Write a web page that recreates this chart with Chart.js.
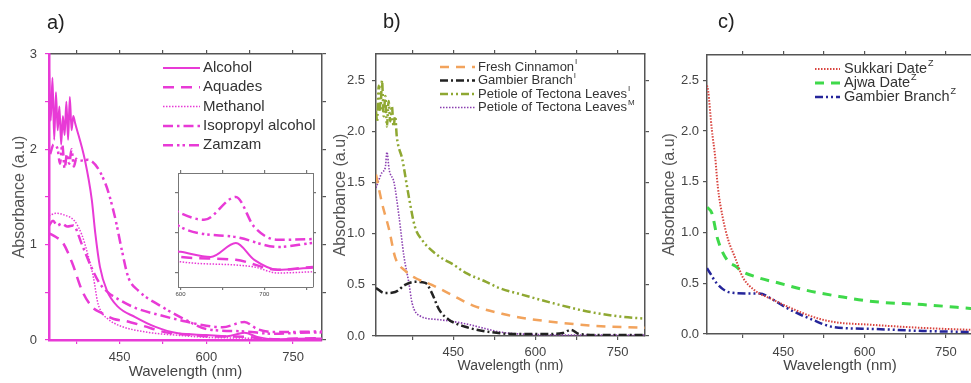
<!DOCTYPE html>
<html>
<head>
<meta charset="utf-8">
<script src="https://cdn.jsdelivr.net/npm/chart.js@4.4.1/dist/chart.umd.min.js"></script>
<style>
  html, body { margin: 0; padding: 0; background: #fff; overflow: hidden; width: 971px; height: 383px; }
  canvas { position: absolute; top: 0; }
</style>
</head>
<body>
<canvas id="panelA" width="330" height="383" style="left:0px"></canvas>
<canvas id="panelB" width="325" height="383" style="left:330px"></canvas>
<canvas id="panelC" width="330" height="383" style="left:655px"></canvas>
<canvas id="insetA" width="155" height="135" style="left:168px;top:165px"></canvas>
<script>
// Panel a) - solventes
const alcoholNm = [328,331,334,337,340,343,346,349,352,355,358,361,364,367,370,373,390,402,408,416,428,447,477,511,551,600,636,666,688,716,758,800];
const alcoholAbs = [2.85,2.3,2.75,2.1,2.6,2.2,2.45,2.05,2.35,2.15,2.5,2.1,2.55,2.2,2.35,2.28,1.89,1.47,1.12,0.77,0.52,0.35,0.24,0.14,0.07,0.053,0.04,0.075,0.033,0.008,0.013,0.015];
const aquadesNm = [328,340,352,368,385,402,420,440,460,490,530,580,600,666,716,758,800];
const aquadesAbs = [1.12,1.08,1.02,0.81,0.52,0.35,0.28,0.22,0.2,0.15,0.08,0.05,0.04,0.033,0.008,0.015,0.02];
const methanolNm = [328,340,355,372,385,395,405,412,418,430,450,500,550,600,688,716,758,800];
const methanolAbs = [1.3,1.33,1.31,1.25,1.1,0.9,0.65,0.4,0.3,0.22,0.15,0.08,0.05,0.028,0.015,0,0.003,0.005];
const isopropylNm = [328,335,342,350,360,370,385,400,415,430,450,480,520,560,600,628,666,688,716,758,800];
const isopropylAbs = [1.2,1.25,1.2,1.22,1.19,1.2,1.0,0.78,0.6,0.5,0.42,0.33,0.26,0.2,0.15,0.133,0.19,0.115,0.083,0.085,0.09];
const zamzamNm = [330,336,343,347,351,355,359,363,367,371,375,380,395,425,442,454,465,482,523,568,600,666,716,758,800];
const zamzamAbs = [1.95,2.05,2.0,1.85,2.05,1.8,1.95,1.85,2.0,1.82,1.9,1.88,1.89,1.65,1.29,0.94,0.66,0.52,0.35,0.2,0.115,0.09,0.065,0.075,0.08];

// Panel b) - extractos
const cinnamonNm = [309,320,333,344,362,380,411,448,485,545,585,646,706,800];
const cinnamonAbs = [1.58,1.3,1.04,0.77,0.64,0.57,0.5,0.4,0.3,0.21,0.17,0.13,0.1,0.08];
const gambierINm = [309,325,344,362,380,399,411,424,442,472,516,560,620,650,665,680,720,800];
const gambierIAbs = [0.47,0.42,0.43,0.5,0.53,0.52,0.42,0.26,0.16,0.09,0.04,0.02,0.02,0.03,0.06,0.02,0.01,0.01];
const petioleINm = [309,311,314,317,320,323,326,329,332,335,338,341,344,347,357,369,380,393,424,450,472,510,534,572,633,695,755,800];
const petioleIAbs = [2.2,2.1,2.45,2.2,2.5,2.15,2.35,2.05,2.3,2.1,2.25,2.05,2.15,1.95,1.73,1.36,1.07,0.94,0.78,0.7,0.62,0.53,0.47,0.41,0.32,0.24,0.19,0.17];
const petioleMNm = [309,320,326,329,333,342,351,360,369,375,388,424,472,510,534,570,700,800];
const petioleMAbs = [1.45,1.6,1.65,1.8,1.63,1.5,1.17,0.78,0.52,0.32,0.2,0.16,0.12,0.07,0.04,0.02,0.01,0.01];

// Panel c) - dátiles
const sukkariNm = [309,311,318,324,329,338,348,361,375,397,430,462,504,541,615,707,800];
const sukkariAbs = [2.45,2.4,2.01,1.75,1.45,1.15,0.93,0.75,0.56,0.43,0.34,0.26,0.17,0.12,0.09,0.06,0.04];
const ajwaNm = [309,318,329,346,364,370,401,443,493,553,615,707,800];
const ajwaAbs = [1.25,1.19,0.93,0.73,0.66,0.63,0.56,0.5,0.43,0.37,0.32,0.29,0.25];
const gambierZNm = [309,327,351,382,406,430,462,504,541,615,707,800];
const gambierZAbs = [0.65,0.5,0.41,0.4,0.4,0.34,0.24,0.14,0.07,0.05,0.03,0.02];

// Etiquetas de los ejes
const xTickLabels = [450, 600, 750];
const insetTickLabels = [600, 700];

const FONT = '"Liberation Sans", Arial, sans-serif';
const MAGENTA = '#e83ad6';
Chart.defaults.font.family = FONT;
Chart.defaults.color = '#444';

function toPoints(nm, abs) {
    return nm.map(function(x, i) { return { x: x, y: abs[i] }; });
}

function serie(label, sup, nm, abs, color, width, dash) {
    return {
        label: label, sup: sup, data: toPoints(nm, abs),
        borderColor: color, borderWidth: width, borderDash: dash,
        pointRadius: 0, fill: false, cubicInterpolationMode: 'monotone'
    };
}

// Leyenda con muestras de línea y la letra del panel
const panelDecor = {
    id: 'panelDecor',
    afterDraw: function(chart, args, o) {
        const ctx = chart.ctx;
        ctx.save();
        if (o.letter) {
            ctx.font = '20px ' + FONT;
            ctx.fillStyle = '#222';
            ctx.textBaseline = 'alphabetic';
            ctx.fillText(o.letter, o.letterX, o.letterY);
        }
        if (o.legend) {
            chart.data.datasets.forEach(function(ds, i) {
                const y = o.y0 + i * o.rowH;
                ctx.strokeStyle = ds.borderColor;
                ctx.lineWidth = ds.borderWidth;
                ctx.setLineDash(ds.borderDash || []);
                ctx.beginPath();
                ctx.moveTo(o.x, y);
                ctx.lineTo(o.x + o.len, y);
                ctx.stroke();
                ctx.setLineDash([]);
                const tx = o.x + o.len + o.gap;
                ctx.font = o.size + 'px ' + FONT;
                ctx.fillStyle = '#333';
                ctx.textBaseline = 'middle';
                ctx.fillText(ds.label, tx, y);
                if (ds.sup) {
                    const w = ctx.measureText(ds.label).width;
                    ctx.font = Math.round(o.size * 0.6) + 'px ' + FONT;
                    ctx.fillText(ds.sup, tx + w + 1, y - o.size * 0.4);
                }
            });
        }
        ctx.restore();
    }
};

function axisScales(c) {
    function grid(col) {
        return { display: true, drawOnChartArea: false, drawTicks: true, tickLength: c.tickLen || 4, color: col, lineWidth: 1.2 };
    }
    return {
        x: {
            type: 'linear', position: 'bottom', min: c.xMin, max: c.xMax,
            grid: grid(c.bottomColor), border: { display: true, color: c.bottomColor, width: c.bottomWidth },
            ticks: {
                stepSize: c.xStep, includeBounds: false, autoSkip: false, maxRotation: 0,
                padding: c.xPad, color: '#444', font: { size: c.xTickSize },
                callback: function(v) { return c.xLabels.includes(v) ? String(v) : ''; }
            },
            title: { display: !!c.xTitle, text: c.xTitle, color: '#444', font: { size: c.xTitleSize }, padding: { top: 0, bottom: c.xTitlePad } },
            afterFit: function(s) { s.height = c.bottomH; }
        },
        x2: {
            type: 'linear', position: 'top', min: c.xMin, max: c.xMax,
            grid: grid(c.frameColor), border: { display: true, color: c.frameColor, width: c.frameWidth },
            ticks: { stepSize: c.xStep, includeBounds: false, autoSkip: false, display: false },
            afterFit: function(s) { s.height = 0; }
        },
        y: {
            type: 'linear', position: 'left', min: c.yMin, max: c.yMax,
            grid: grid(c.leftColor), border: { display: true, color: c.leftColor, width: c.leftWidth },
            ticks: {
                stepSize: c.yStep, includeBounds: false, autoSkip: false, display: c.yLabels,
                padding: c.yPad, color: '#444', font: { size: 13 },
                callback: c.yFormat
            },
            title: { display: !!c.yTitle, text: c.yTitle, color: '#555', font: { size: 16 }, padding: { top: 0, bottom: 0 } },
            afterFit: function(s) { s.width = c.leftW; }
        },
        y2: {
            type: 'linear', position: 'right', min: c.yMin, max: c.yMax,
            grid: grid(c.frameColor), border: { display: true, color: c.frameColor, width: c.frameWidth },
            ticks: { stepSize: c.yStep, includeBounds: false, autoSkip: false, display: false },
            afterFit: function(s) { s.width = 0; }
        }
    };
}

function makeChart(id, datasets, scales, padding, decor) {
    return new Chart(document.getElementById(id), {
        type: 'line',
        data: { datasets: datasets },
        options: {
            responsive: false, animation: false, devicePixelRatio: 1,
            layout: { padding: padding },
            plugins: { legend: { display: false }, tooltip: { enabled: false }, panelDecor: decor },
            scales: scales
        },
        plugins: [panelDecor]
    });
}

function datasetsA() {
    return [
        serie('Alcohol', '', alcoholNm, alcoholAbs, MAGENTA, 2, []),
        serie('Aquades', '', aquadesNm, aquadesAbs, MAGENTA, 2.5, [11, 7]),
        serie('Methanol', '', methanolNm, methanolAbs, MAGENTA, 1.5, [1.5, 1.5]),
        serie('Isopropyl alcohol', '', isopropylNm, isopropylAbs, MAGENTA, 2.5, [10, 4, 2.5, 4]),
        serie('Zamzam', '', zamzamNm, zamzamAbs, MAGENTA, 2.5, [10, 4, 2.5, 3, 2.5, 4])
    ];
}

const intFormat = function(v) { return Number.isInteger(v) ? String(v) : ''; };
const decFormat = function(v) { return v.toFixed(1); };

// Panel a)
makeChart('panelA', datasetsA(),
    axisScales({
        xMin: 328, xMax: 800, xStep: 75, xLabels: xTickLabels, xPad: 6, xTickSize: 13,
        xTitle: 'Wavelength (nm)', xTitleSize: 15, xTitlePad: 2, bottomH: 43,
        yMin: 0, yMax: 3, yStep: 0.5, yLabels: true, yPad: 8, yFormat: intFormat,
        yTitle: 'Absorbance (a.u)', leftW: 39,
        bottomColor: MAGENTA, bottomWidth: 2.5, leftColor: MAGENTA, leftWidth: 2.5,
        frameColor: '#555', frameWidth: 1.5
    }),
    { left: 10, right: 8, top: 54, bottom: 0 },
    { letter: 'a)', letterX: 47, letterY: 29, legend: true, x: 163, y0: 68, rowH: 19.3, len: 37, gap: 3, size: 15 });

// Recuadro ampliado 600-760 nm
makeChart('insetA', datasetsA(),
    axisScales({
        xMin: 597, xMax: 758, xStep: 50, xLabels: insetTickLabels, xPad: 1, xTickSize: 6, tickLen: 3,
        xTitle: '', xTitleSize: 6, xTitlePad: 0, bottomH: 13,
        yMin: -0.035, yMax: 0.25, yStep: 0.1, yLabels: false, yPad: 0, yFormat: decFormat,
        yTitle: '', leftW: 0,
        bottomColor: '#777', bottomWidth: 1, leftColor: '#777', leftWidth: 1,
        frameColor: '#777', frameWidth: 1
    }),
    { left: 10, right: 10, top: 8, bottom: 0 },
    { legend: false });

// Panel b)
makeChart('panelB', [
        serie('Fresh Cinnamon', 'I', cinnamonNm, cinnamonAbs, '#f2a35c', 2.5, [9, 7]),
        serie('Gambier Branch', 'I', gambierINm, gambierIAbs, '#222222', 2.5, [8, 3, 2, 3]),
        serie('Petiole of Tectona Leaves', 'I', petioleINm, petioleIAbs, '#8fa832', 2.5, [8, 3, 2, 3, 2, 3]),
        serie('Petiole of Tectona Leaves', 'M', petioleMNm, petioleMAbs, '#8a3fb0', 1.6, [1.5, 1.5])
    ],
    axisScales({
        xMin: 309, xMax: 800, xStep: 75, xLabels: xTickLabels, xPad: 5, xTickSize: 13,
        xTitle: 'Wavelength (nm)', xTitleSize: 14, xTitlePad: 8, bottomH: 47,
        yMin: 0, yMax: 2.76, yStep: 0.5, yLabels: true, yPad: 7, yFormat: decFormat,
        yTitle: 'Absorbance (a.u)', leftW: 45,
        bottomColor: '#555', bottomWidth: 1.5, leftColor: '#555', leftWidth: 1.5,
        frameColor: '#555', frameWidth: 1.5
    }),
    { left: 1, right: 10, top: 54, bottom: 0 },
    { letter: 'b)', letterX: 53, letterY: 28, legend: true, x: 110, y0: 67, rowH: 13.5, len: 35, gap: 3, size: 13 });

// Panel c)
makeChart('panelC', [
        serie('Sukkari Date', 'Z', sukkariNm, sukkariAbs, '#d9443f', 2, [1.5, 1.5]),
        serie('Ajwa Date', 'Z', ajwaNm, ajwaAbs, '#3fd94a', 3, [9, 7]),
        serie('Gambier Branch', 'Z', gambierZNm, gambierZAbs, '#25259a', 2.5, [8, 3, 2, 3, 2, 3])
    ],
    axisScales({
        xMin: 309, xMax: 800, xStep: 75, xLabels: xTickLabels, xPad: 7, xTickSize: 13,
        xTitle: 'Wavelength (nm)', xTitleSize: 15, xTitlePad: 8, bottomH: 49,
        yMin: 0, yMax: 2.75, yStep: 0.5, yLabels: true, yPad: 4, yFormat: decFormat,
        yTitle: 'Absorbance (a.u)', leftW: 47,
        bottomColor: '#555', bottomWidth: 1.5, leftColor: '#555', leftWidth: 1.5,
        frameColor: '#555', frameWidth: 1.5
    }),
    { left: 5, right: 12, top: 55, bottom: 0 },
    { letter: 'c)', letterX: 63, letterY: 28, legend: true, x: 160, y0: 69, rowH: 14, len: 25, gap: 4, size: 14.5 });
</script>
</body>
</html>
